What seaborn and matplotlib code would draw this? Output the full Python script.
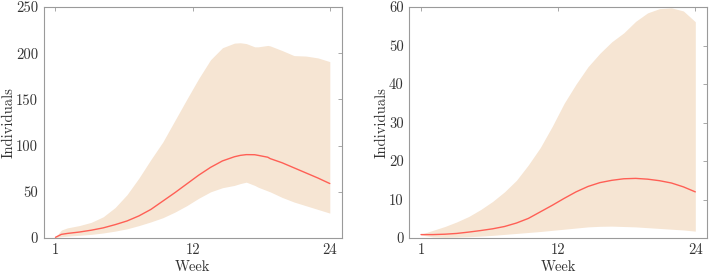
import numpy as np
import pandas as pd
import matplotlib
matplotlib.use("Agg")
import matplotlib.pyplot as plt
import seaborn as sns

# ---------------- data ----------------
weeks = [1, 1.5, 2, 3, 4, 5, 6, 7, 8, 9, 10, 11, 12, 13, 14, 15, 16, 16.5,
         17, 17.7, 18, 18.8, 19, 20, 21, 22, 23, 24]

left_median = [0.8, 4, 5, 6.5, 8.5, 11, 14.5, 18.5, 24, 31, 40, 49, 58.5, 68, 76.5,
               83.5, 88, 89.5, 90.3, 90.2, 89.5, 87.5, 86, 81.5, 76, 70.5, 65, 59]
left_lower = [0.5, 1.5, 2, 3, 4, 5.5, 7.5, 10, 13.5, 17.5, 22, 28, 35, 43, 50,
              54.5, 57, 59, 60.5, 57, 55, 51, 50, 44, 39, 35, 31, 27]
left_upper = [1, 8.7, 11, 13.5, 17, 23, 33, 47, 65, 85, 104, 127, 150, 172.5, 193,
              206, 211, 211.4, 210.5, 207, 207, 208.5, 208, 203, 197.5, 197, 195, 191]

weeks_r = [1, 2, 3, 4, 5, 6, 7, 8, 9, 10, 11, 12, 13, 14, 15, 16, 17, 18, 19,
           20, 21, 22, 23, 24]
right_median = [0.9, 0.9, 1.0, 1.2, 1.55, 1.95, 2.4, 3.0, 3.9, 5.1, 6.8, 8.5, 10.3,
                12.0, 13.4, 14.4, 15.0, 15.4, 15.5, 15.3, 14.9, 14.3, 13.3, 12.0]
right_lower = [0.8, 0.3, 0.2, 0.25, 0.35, 0.5, 0.7, 0.95, 1.2, 1.45, 1.7, 2.0, 2.3,
               2.6, 2.9, 3.05, 3.1, 3.0, 2.9, 2.7, 2.5, 2.3, 2.1, 1.8]
right_upper = [1.0, 2.0, 3.0, 4.2, 5.6, 7.4, 9.5, 12.0, 15.0, 19.0, 23.5, 29.0,
               35.0, 40.0, 44.5, 48.0, 51.0, 53.3, 56.3, 58.5, 59.6, 59.8, 59.0, 56.2]

xtick_labels = ["1", "12", "24"]
left_yticks = [0, 50, 100, 150, 200, 250]
right_yticks = [0, 10, 20, 30, 40, 50, 60]
xlabel = "Week"
ylabel = "Individuals"

# ---------------- style ----------------
sns.set_theme(style="white")
plt.rcParams["font.family"] = ["cmr10", "DejaVu Serif"]
plt.rcParams["axes.formatter.use_mathtext"] = True

fill_color = "#F6E5D3"
line_color = "#FF5F55"
spine_color = "#9A9A9A"
text_color = "#333333"

fig = plt.figure(figsize=(7.09, 2.73), dpi=100)
ax1 = fig.add_axes([0.0614, 0.128, 0.4206, 0.846])
ax2 = fig.add_axes([0.577, 0.128, 0.4205, 0.846])

panels = [
    (ax1, weeks, left_median, left_lower, left_upper, left_yticks),
    (ax2, weeks_r, right_median, right_lower, right_upper, right_yticks),
]

for ax, wk, med, lo, up, yt in panels:
    df = pd.DataFrame({"week": wk, "median": med})
    ax.fill_between(wk, lo, up, color=fill_color, linewidth=0, zorder=1)
    sns.lineplot(data=df, x="week", y="median", ax=ax, color=line_color,
                 linewidth=1.0, zorder=2)
    ax.set_xlim(0, 25)
    ax.set_ylim(yt[0], yt[-1])
    ax.set_xticks([1, 12.5, 24])
    ax.set_xticklabels(xtick_labels)
    ax.set_yticks(yt)
    ax.set_yticklabels([str(v) for v in yt])
    ax.set_xlabel(xlabel, fontsize=10.5, color=text_color, labelpad=2)
    ax.set_ylabel(ylabel, fontsize=10.5, color=text_color, labelpad=0.5)
    ax.tick_params(direction="in", length=3, width=0.6, colors=spine_color,
                   labelcolor=text_color, labelsize=10.5,
                   top=True, right=True, pad=4)
    for s in ax.spines.values():
        s.set_visible(True)
        s.set_color(spine_color)
        s.set_linewidth(0.8)

fig.savefig("out.png", dpi=100)
